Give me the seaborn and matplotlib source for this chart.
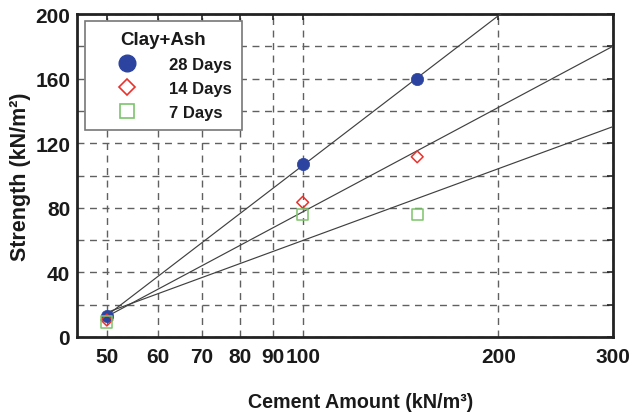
import numpy as np
import pandas as pd
import seaborn as sns
import matplotlib.pyplot as plt
from matplotlib.lines import Line2D
from matplotlib.ticker import FixedLocator, NullFormatter, FixedFormatter

# ---- data ----
cement = [50, 100, 150]
days28 = [13, 107, 160]
days14 = [10.5, 83.4, 111.6]
days7 = [9.3, 75.7, 75.7]
series_names = ["28 Days", "14 Days", "7 Days"]
legend_title = "Clay+Ash"
x_ticks = [50, 60, 70, 80, 90, 100, 200, 300]
y_ticks = [0, 40, 80, 120, 160, 200]
y_minor = [20, 60, 100, 140, 180]
x_limits = (45, 300)
y_limits = (0, 200)

colors = {"28 Days": "#2c44a0", "14 Days": "#e8322c", "7 Days": "#7cc46a"}
markers = {"28 Days": "o", "14 Days": "D", "7 Days": "s"}
sizes = {"28 Days": 78, "14 Days": 36, "7 Days": 64}
leg_sizes = {"28 Days": 12, "14 Days": 8.2, "7 Days": 10}

sns.set_theme(style="white")
plt.rcParams["font.family"] = ["Liberation Sans", "DejaVu Sans"]
plt.rcParams["font.weight"] = "bold"

df = pd.DataFrame({
    "cement": cement * 3,
    "strength": days28 + days14 + days7,
    "age": [n for n in series_names for _ in cement],
})

fig = plt.figure(figsize=(6.32, 4.14), dpi=100)
ax = fig.add_axes([0.122, 0.1836, 0.848, 0.780])
ax.set_xscale("log")

# fitted lines: y = a + b*log10(x)
for name in series_names:
    sub = df[df["age"] == name]
    coef = np.polyfit(np.log10(sub["cement"]), sub["strength"], 1)
    xs = np.geomspace(sub["cement"].min(), x_limits[1], 200)
    sns.lineplot(x=xs, y=np.polyval(coef, np.log10(xs)), ax=ax,
                 color="#404040", lw=0.85, zorder=3, estimator=None, sort=False)

for name in series_names:
    sub = df[df["age"] == name]
    if name == "28 Days":
        sns.scatterplot(x=sub["cement"], y=sub["strength"], ax=ax, marker="o",
                        s=sizes[name], color=colors[name], edgecolor=colors[name],
                        linewidth=0.5, zorder=5)
    else:
        sns.scatterplot(x=sub["cement"], y=sub["strength"], ax=ax, marker=markers[name],
                        s=sizes[name], facecolors="none", edgecolor=colors[name],
                        color=colors[name], linewidth=1.1, zorder=5)

ax.set_xlim(*x_limits)
ax.set_ylim(*y_limits)
ax.xaxis.set_major_locator(FixedLocator(x_ticks))
ax.xaxis.set_major_formatter(FixedFormatter([str(t) for t in x_ticks]))
ax.xaxis.set_minor_locator(FixedLocator([]))
ax.xaxis.set_minor_formatter(NullFormatter())
ax.yaxis.set_major_locator(FixedLocator(y_ticks))
ax.yaxis.set_minor_locator(FixedLocator(y_minor))

ax.grid(which="both", axis="both", linestyle=(0, (5, 4)), color="#606060", lw=1.0)
ax.set_axisbelow(True)
ax.tick_params(which="both", direction="in", top=True, right=True, length=4,
               width=1.2, color="#222222")
ax.tick_params(which="major", labelsize=15, pad=5, labelcolor="#1a1a1a")
ax.tick_params(axis="x", which="major", pad=7)
for sp in ax.spines.values():
    sp.set_linewidth(2.0)
    sp.set_color("#222222")

ax.set_xlabel("Cement Amount (kN/m³)", fontsize=14.2, fontweight="bold",
              color="#1a1a1a")
ax.set_ylabel("Strength (kN/m²)", fontsize=15.5, fontweight="bold",
              color="#1a1a1a")
ax.xaxis.label.set_va("center")
ax.yaxis.label.set_va("center")
ax.xaxis.set_label_coords(0.529, -0.201)
ax.yaxis.set_label_coords(-0.106, 0.5)

handles = []
for name in series_names:
    if name == "28 Days":
        h = Line2D([], [], ls="none", marker="o", markersize=leg_sizes[name],
                   markerfacecolor=colors[name], markeredgecolor=colors[name])
    else:
        h = Line2D([], [], ls="none", marker=markers[name],
                   markersize=leg_sizes[name],
                   markerfacecolor="none", markeredgecolor=colors[name],
                   markeredgewidth=1.2)
    handles.append(h)
leg = ax.legend(handles, series_names, title=legend_title, loc="upper left",
                bbox_to_anchor=(0.0149, 0.978), borderaxespad=0, frameon=True,
                fancybox=False, edgecolor="#777777", framealpha=1,
                prop={"size": 12, "weight": "bold"},
                title_fontproperties={"size": 13.5, "weight": "bold"},
                handlelength=3.85, handletextpad=0.6, labelspacing=0.53,
                borderpad=0.6, alignment="center")
leg.get_frame().set_linewidth(1.2)
for t in leg.get_texts():
    t.set_color("#1a1a1a")
leg.get_title().set_color("#1a1a1a")

fig.savefig("out.png", dpi=100)
